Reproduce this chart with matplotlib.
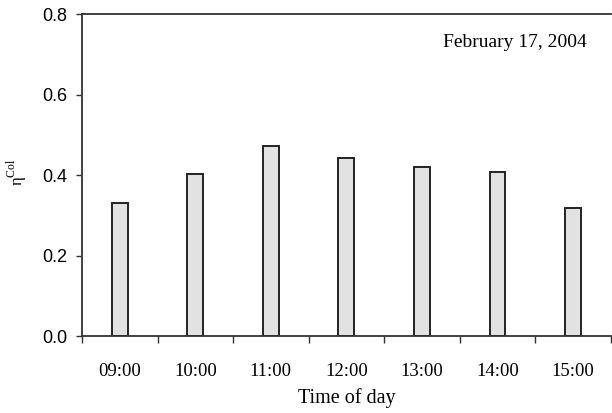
import numpy as np
import matplotlib
matplotlib.use("Agg")
import matplotlib.pyplot as plt

plt.rcParams["mathtext.fontset"] = "custom"
plt.rcParams["mathtext.rm"] = "Liberation Serif"

# values
hours = ["09:00", "10:00", "11:00", "12:00", "13:00", "14:00", "15:00"]
eta_col = [0.330, 0.404, 0.472, 0.442, 0.419, 0.407, 0.319]
y_ticks = [0.0, 0.2, 0.4, 0.6, 0.8]

fig = plt.figure(figsize=(6.12, 4.13), dpi=100)
ax = fig.add_axes([0.134, 0.186, 0.864, 0.780])

x = np.arange(len(hours))
ax.bar(x, eta_col, width=0.21, color="#e2e2e2", edgecolor="#222222", linewidth=1.4)

ax.set_xlim(-0.5, len(hours) - 0.5)
ax.set_ylim(0, 0.8)

# category ticks sit between the bars
ax.set_xticks(np.arange(len(hours) + 1) - 0.5)
ax.set_xticklabels([])
ax.set_xticks(x, minor=True)
ax.set_xticklabels(hours, minor=True, family="Liberation Serif", fontsize=13.5)
ax.tick_params(axis="x", which="major", direction="out", length=5, width=1, color="#333333")
ax.tick_params(axis="x", which="minor", length=0, pad=19)

ax.set_yticks(y_ticks)
ax.set_yticklabels([f"{v:.1f}" for v in y_ticks], family="Liberation Sans", fontsize=13)
ax.tick_params(axis="y", direction="out", length=4.3, width=1, color="#333333", pad=6)

for s in ["left", "top", "bottom"]:
    ax.spines[s].set_linewidth(1.3)
    ax.spines[s].set_color("#333333")
ax.spines["right"].set_visible(False)

ax.set_xlabel("Time of day", family="Liberation Serif", fontsize=14.5)
ax.xaxis.set_label_coords(0.5, -0.16)
ax.set_ylabel("η$^{\\mathrm{Col}}$", family="Liberation Serif", fontsize=12)
ax.yaxis.set_label_coords(-0.1, 0.51)

ax.text(0.955, 0.913, "February 17, 2004", transform=ax.transAxes,
        ha="right", va="center", family="Liberation Serif", fontsize=14)

fig.savefig("out.png", dpi=100)
